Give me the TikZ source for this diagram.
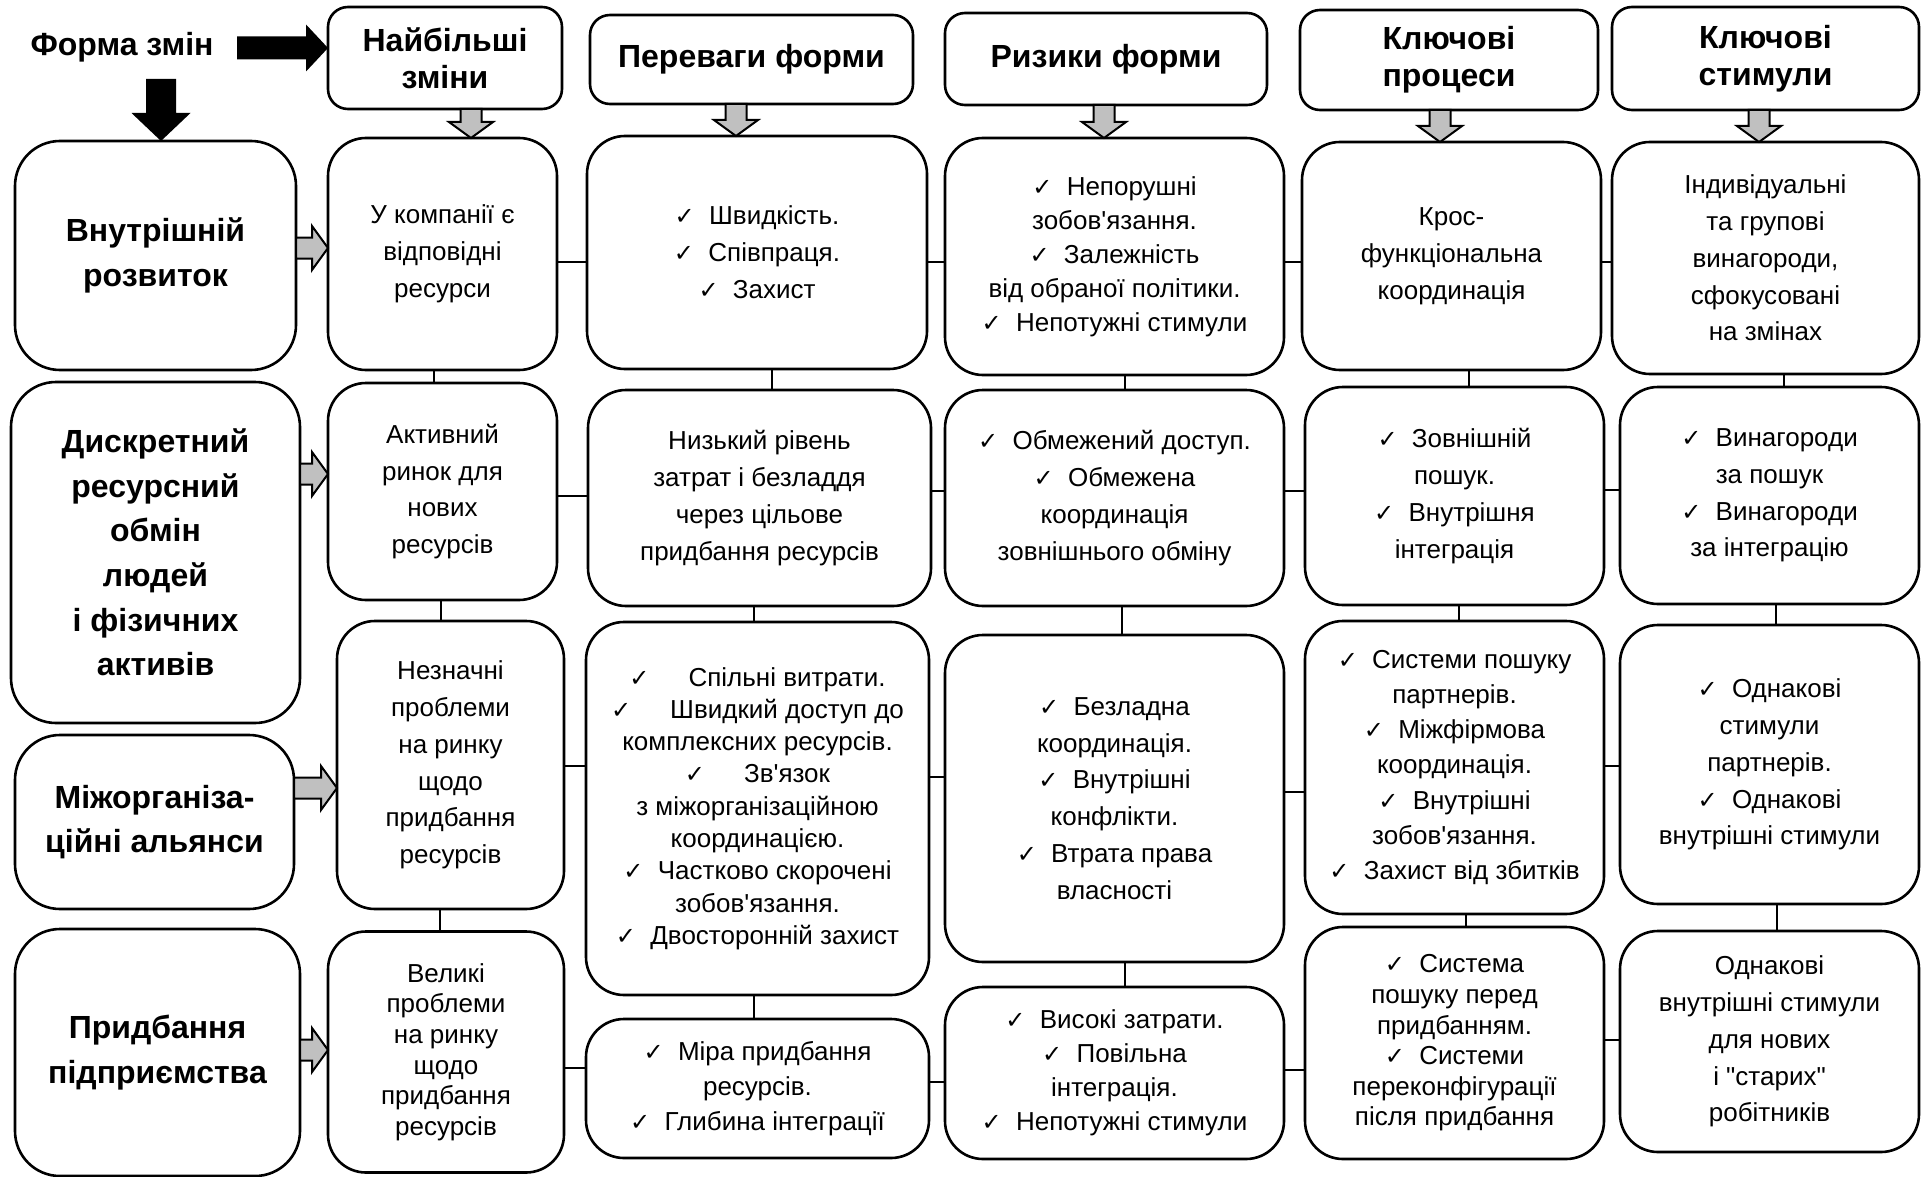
\documentclass[tikz,border=0pt]{standalone}
\usepackage{fontspec}
\setmainfont{Liberation Sans}[Ligatures=TeXOff]
\newfontfamily\symfont{DejaVu Sans}
\usetikzlibrary{calc}
\definecolor{arrowgray}{RGB}{192,192,192}
\newcommand{\chk}[1][0.55em]{{\symfont\fontsize{24}{24}\selectfont ✓}\hspace{#1}}

\begin{document}
\begin{tikzpicture}[x=1pt, y=-1pt,
  every cell/.style={draw, line width=2.6pt, rounded corners=38pt, align=center,
    inner sep=0pt, outer sep=0pt, font=\fontsize{26}{36.8}\selectfont},
  head box/.style={every cell, rounded corners=20pt, font=\bfseries\fontsize{32}{36.8}\selectfont},
  kind box/.style={every cell, rounded corners=45pt, font=\bfseries\fontsize{32}{44.6}\selectfont},
  dims/.style 2 args={minimum width=#1pt, minimum height=#2pt},
  link/.style={line width=2pt},
  gray arrow/.style={draw, line width=2pt, fill=arrowgray}]

\useasboundingbox (0,0) rectangle (1921,1177);

% top line
\node [font=\bfseries\fontsize{32}{36.8}\selectfont] (form-label) at (122,47) {Форма змін};
\node [head box, dims={234}{102}] (head-1) at (445,58) {Найбільші\\зміни};
\node [head box, dims={323}{89}] (head-2) at (751.5,59.5) {Переваги форми};
\node [head box, dims={322}{92}] (head-3) at (1106,59) {Ризики форми};
\node [head box, dims={298}{100}] (head-4) at (1449,60) {Ключові\\процеси};
\node [head box, dims={307}{103}] (head-5) at (1765.5,58.5) {Ключові\\стимули};

% forms of change
\node [kind box, dims={281}{229}] (kind-1) at (155.5,255.5) {Внутрішній\\розвиток};
\node [kind box, dims={289}{341}] (kind-2) at (155.5,552.5) {Дискретний\\ресурсний\\обмін\\людей\\і фізичних\\активів};
\node [kind box, dims={279}{174}] (kind-3) at (154.5,822) {Міжорганіза-\\ційні альянси};
\node [kind box, dims={285}{247}] (kind-4) at (157.5,1052.5) {Придбання\\підприємства};

% row 1
\node [every cell, dims={229}{232}] (cell-1-1) at (442.5,254) {У компанії є\\відповідні\\ресурси};
\node [every cell, dims={340}{233}] (cell-1-2) at (757,252.5) {\chk Швидкість.\\\chk Співпраця.\\\chk Захист};
\node [every cell, dims={339}{237}, font=\fontsize{26}{34}\selectfont] (cell-1-3) at (1114.5,256.5)
  {\chk Непорушні\\зобов'язання.\\\chk Залежність\\від обраної політики.\\\chk Непотужні стимули};
\node [every cell, dims={299}{228}] (cell-1-4) at (1451.5,256) {Крос-\\функціональна\\координація};
\node [every cell, dims={307}{232}] (cell-1-5) at (1765.5,258) {Індивідуальні\\та групові\\винагороди,\\сфокусовані\\на змінах};

% row 2
\node [every cell, dims={229}{217}] (cell-2-1) at (442.5,491.5) {Активний\\ринок для\\нових\\ресурсів};
\node [every cell, dims={343}{216}] (cell-2-2) at (759.5,498) {Низький рівень\\затрат і безладдя\\через цільове\\придбання ресурсів};
\node [every cell, dims={339}{216}] (cell-2-3) at (1114.5,498) {\chk Обмежений доступ.\\\chk Обмежена\\координація\\зовнішнього обміну};
\node [every cell, dims={299}{218}] (cell-2-4) at (1454.5,496) {\chk Зовнішній\\пошук.\\\chk Внутрішня\\інтеграція};
\node [every cell, dims={299}{217}] (cell-2-5) at (1769.5,495.5) {\chk Винагороди\\за пошук\\\chk Винагороди\\за інтеграцію};

% row 3
\node [every cell, dims={227}{288}] (cell-3-1) at (450.5,765) {Незначні\\проблеми\\на ринку\\щодо\\придбання\\ресурсів};
\node [every cell, dims={343}{373}, font=\fontsize{26}{32.3}\selectfont] (cell-3-2) at (757.5,808.5)
  {\chk[1.5em]Спільні витрати.\\\chk[1.5em]Швидкий доступ до\\комплексних ресурсів.\\\chk[1.5em]Зв'язок\\з міжорганізаційною\\координацією.\\\chk Частково скорочені\\зобов'язання.\\\chk Двосторонній захист};
\node [every cell, dims={339}{327}] (cell-3-3) at (1114.5,798.5) {\chk Безладна\\координація.\\\chk Внутрішні\\конфлікти.\\\chk Втрата права\\власності};
\node [every cell, dims={299}{293}, font=\fontsize{26}{35.3}\selectfont] (cell-3-4) at (1454.5,767.5)
  {\chk Системи пошуку\\партнерів.\\\chk Міжфірмова\\координація.\\\chk Внутрішні\\зобов'язання.\\\chk Захист від збитків};
\node [every cell, dims={299}{279}] (cell-3-5) at (1769.5,764.5) {\chk Однакові\\стимули\\партнерів.\\\chk Однакові\\внутрішні стимули};

% row 4
\node [every cell, dims={236}{241}, font=\fontsize{26}{30.6}\selectfont] (cell-4-1) at (446,1052) {Великі\\проблеми\\на ринку\\щодо\\придбання\\ресурсів};
\node [every cell, dims={343}{139}, font=\fontsize{26}{35}\selectfont] (cell-4-2) at (757.5,1088.5) {\chk Міра придбання\\ресурсів.\\\chk Глибина інтеграції};
\node [every cell, dims={339}{172}, font=\fontsize{26}{34}\selectfont] (cell-4-3) at (1114.5,1073) {\chk Високі затрати.\\\chk Повільна\\інтеграція.\\\chk Непотужні стимули};
\node [every cell, dims={299}{232}, font=\fontsize{26}{30.6}\selectfont] (cell-4-4) at (1454.5,1043) {\chk Система\\пошуку перед\\придбанням.\\\chk Системи\\переконфігурації\\після придбання};
\node [every cell, dims={299}{221}] (cell-4-5) at (1769.5,1041.5) {Однакові\\внутрішні стимули\\для нових\\і "старих"\\робітників};

% black arrows from the label
\coordinate (form-right) at (237,48);
\coordinate (form-tip) at (form-right -| head-1.west);
\fill ($(form-right)+(0,-11.5)$) -- ($(form-tip)+(-22,-11.5)$) -- ($(form-tip)+(-22,-23.5)$) -- (form-tip)
  -- ($(form-tip)+(-22,23.5)$) -- ($(form-tip)+(-22,11.5)$) -- ($(form-right)+(0,11.5)$) -- cycle;
\coordinate (form-down) at (161,79);
\coordinate (kind-tip) at (form-down |- kind-1.north);
\fill ($(form-down)+(-15,0)$) -- ($(kind-tip)+(-15,-28)$) -- ($(kind-tip)+(-29.5,-28)$) -- (kind-tip)
  -- ($(kind-tip)+(29.5,-28)$) -- ($(kind-tip)+(15,-28)$) -- ($(form-down)+(15,0)$) -- cycle;

% grey arrows
\foreach \c/\dx in {1/28.5, 2/-21, 3/-10.5, 4/-11.5, 5/-6.5}
{
  \coordinate (t) at ($(cell-1-\c.north)+(\dx,0)$);
  \coordinate (s) at (t |- head-\c.south);
  \draw [gray arrow] ($(s)+(-10.5,0)$) -- ($(t)+(-10.5,-16)$) -- ($(t)+(-22,-16)$) -- (t)
    -- ($(t)+(22,-16)$) -- ($(t)+(10.5,-16)$) -- ($(s)+(10.5,0)$) -- cycle;
}

\foreach \r/\dy in {1/-7.5, 2/-78.5, 3/-34, 4/-2.5}
{
  \coordinate (s) at ($(kind-\r.east)+(0,\dy)$);
  \coordinate (t) at (s -| cell-\r-1.west);
  \draw [gray arrow] ($(s)+(0,-10.5)$) -- ($(t)+(-16,-10.5)$) -- ($(t)+(-16,-22)$) -- (t)
    -- ($(t)+(-16,22)$) -- ($(t)+(-16,10.5)$) -- ($(s)+(0,10.5)$) -- cycle;
}

% links along the rows
\foreach \r/\c/\n/\dy in {1/1/2/8, 1/2/3/9.5, 1/3/4/5.5, 1/4/5/6,
    2/1/2/4.5, 2/2/3/-7, 2/3/4/-7, 2/4/5/-6,
    3/1/2/1, 3/2/3/-31.5, 3/3/4/-6.5, 3/4/5/-1.5,
    4/1/2/16, 4/2/3/-6.5, 4/3/4/-3, 4/4/5/-3}
{
  \coordinate (p) at ($(cell-\r-\c.east)+(0,\dy)$);
  \draw [link] (p) -- (p -| cell-\r-\n.west);
}

% links down the columns
\foreach \c/\r/\n/\dx in {1/1/2/-8.5, 1/2/3/-1.5, 1/3/4/-10.5,
    2/1/2/15, 2/2/3/-5.5, 2/3/4/-3.5,
    3/1/2/10.5, 3/2/3/7.5, 3/3/4/10.5,
    4/1/2/17.5, 4/2/3/4.5, 4/3/4/11.5,
    5/1/2/18.5, 5/2/3/6.5, 5/3/4/7.5}
{
  \coordinate (q) at ($(cell-\r-\c.south)+(\dx,0)$);
  \draw [link] (q) -- (q |- cell-\n-\c.north);
}

\end{tikzpicture}
\end{document}
